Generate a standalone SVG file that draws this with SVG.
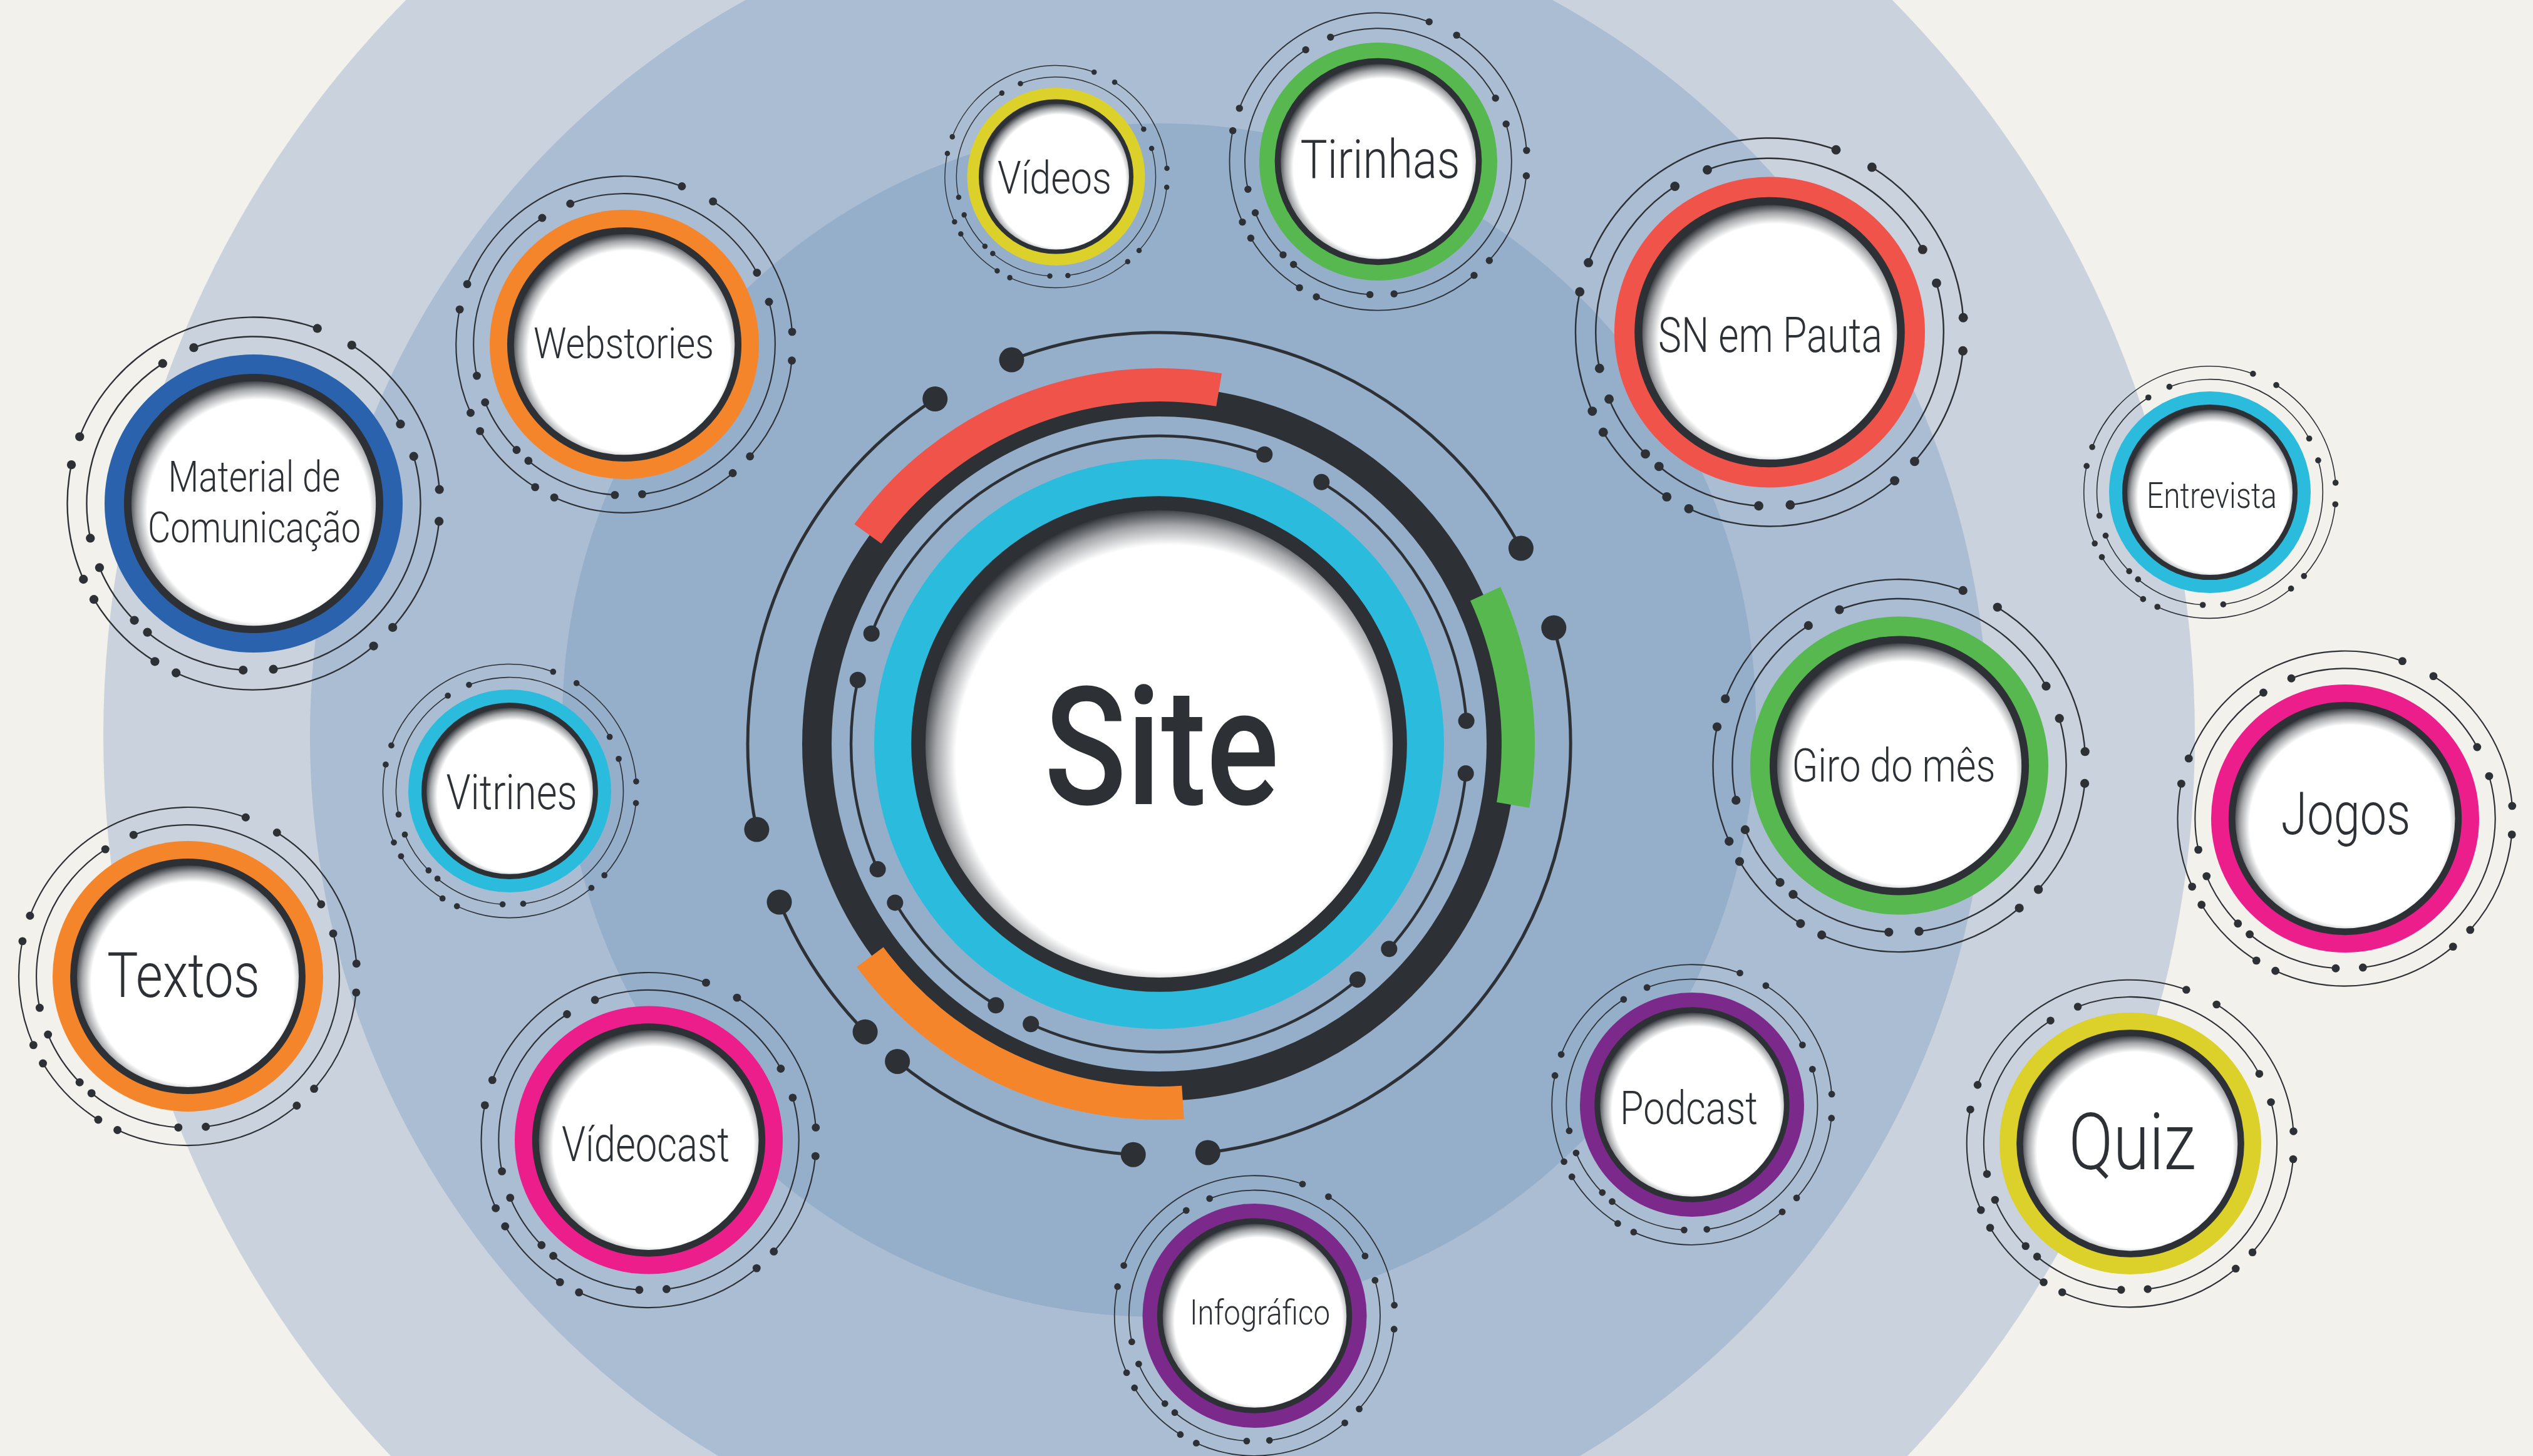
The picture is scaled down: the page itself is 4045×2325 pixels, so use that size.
<svg xmlns="http://www.w3.org/2000/svg" xmlns:xlink="http://www.w3.org/1999/xlink" width="4045" height="2325" viewBox="0 0 4045 2325">
<style>
.lbl{font-family:Roboto,"Noto Sans","DejaVu Sans",sans-serif;font-weight:300;fill:#2d3135;text-anchor:middle}
.site{font-family:Roboto,"Noto Sans","DejaVu Sans",sans-serif;font-weight:500;fill:#2d3135;text-anchor:middle}
.arc{fill:none;stroke:#2d3135;stroke-linecap:round}
.dot{fill:#2d3135}
</style>
<defs>
<radialGradient id="shade" gradientUnits="userSpaceOnUse" cx="3.5" cy="5" r="88">
<stop offset="0" stop-color="#ffffff"/>
<stop offset="0.85" stop-color="#ffffff"/>
<stop offset="0.93" stop-color="#a3a5a8"/>
<stop offset="1" stop-color="#2d3135"/>
</radialGradient>
<g id="core">
<circle r="100" fill="currentColor"/>
<circle r="87" fill="#2d3135"/>
<circle r="82" fill="url(#shade)"/>
</g>
<g id="tech">
<g class="arc" stroke-width="1">
<path d="M42.75,-117.46 A125,125 0 0 0 -116.70,-44.80"/>
<path d="M-122.27,-25.99 A125,125 0 0 0 -114.19,50.84"/>
<path d="M-107.15,64.38 A125,125 0 0 0 -66.24,106.0"/>
<path d="M-52.04,113.65 A125,125 0 0 0 80.51,95.61"/>
<path d="M124.42,11.98 A125,125 0 0 1 93.33,83.15"/>
<path d="M65.87,-106.24 A125,125 0 0 1 124.65,-9.37"/>
<path d="M-40.14,-104.56 A112,112 0 0 1 98.52,-53.27"/>
<path d="M-61.00,-93.93 A112,112 0 0 0 -109.55,23.29"/>
<path d="M-103.40,43.04 A112,112 0 0 0 -80.02,78.37"/>
<path d="M-71.24,86.42 A112,112 0 0 0 -7.03,111.78"/>
<path d="M107.44,-31.62 A112,112 0 0 1 13.26,111.21"/>
</g>
<g class="dot">
<circle cx="42.75" cy="-117.46" r="3"/><circle cx="-116.70" cy="-44.80" r="3"/>
<circle cx="-122.27" cy="-25.99" r="3"/><circle cx="-114.19" cy="50.84" r="3"/>
<circle cx="-107.15" cy="64.38" r="3"/><circle cx="-66.24" cy="106.0" r="3"/>
<circle cx="-52.04" cy="113.65" r="3"/><circle cx="80.51" cy="95.61" r="3"/>
<circle cx="124.42" cy="11.98" r="3"/><circle cx="93.33" cy="83.15" r="3"/>
<circle cx="65.87" cy="-106.24" r="3"/><circle cx="124.65" cy="-9.37" r="3"/>
<circle cx="-40.14" cy="-104.56" r="3"/><circle cx="98.52" cy="-53.27" r="3"/>
<circle cx="-61.00" cy="-93.93" r="3"/><circle cx="-109.55" cy="23.29" r="3"/>
<circle cx="-103.40" cy="43.04" r="3"/><circle cx="-80.02" cy="78.37" r="3"/>
<circle cx="-71.24" cy="86.42" r="3"/><circle cx="-7.03" cy="111.78" r="3"/>
<circle cx="107.44" cy="-31.62" r="3"/><circle cx="13.26" cy="111.21" r="3"/>
</g>
</g>
<g id="badge">
<use href="#core"/>
<use href="#tech"/>
</g>
</defs>

<g id="background">
<rect width="4045" height="2325" fill="#f3f1eb"/>
<circle cx="1835" cy="1175" r="1670" fill="#c9d2dd"/>
<circle cx="1835" cy="1175" r="1340" fill="#aabdd3"/>
<circle cx="1851" cy="1150" r="953" fill="#95afcb"/>
</g>

<g id="node-site">
<g class="arc" stroke-width="5">
<path d="M1615.5,574.6 A657,657 0 0 1 2428.9,875.5"/>
<path d="M2481.3,1002.5 A657,657 0 0 1 1928.8,1840.4"/>
<path d="M1433.1,1694.9 A657,657 0 0 0 1809.7,1843.7"/>
<path d="M1244.5,1440.5 A657,657 0 0 0 1381.6,1647.7"/>
<path d="M1493.2,637.0 A657,657 0 0 0 1208.4,1324.6"/>
</g>
<g class="dot">
<circle cx="1615.5" cy="574.6" r="20"/><circle cx="2428.9" cy="875.5" r="20"/>
<circle cx="2481.3" cy="1002.5" r="20"/><circle cx="1928.8" cy="1840.4" r="20"/>
<circle cx="1433.1" cy="1694.9" r="20"/><circle cx="1809.7" cy="1843.7" r="20"/>
<circle cx="1244.5" cy="1440.5" r="20"/><circle cx="1381.6" cy="1647.7" r="20"/>
<circle cx="1493.2" cy="637.0" r="20"/><circle cx="1208.4" cy="1324.6" r="20"/>
</g>
<circle cx="1851" cy="1188" r="546.5" fill="none" stroke="#2d3135" stroke-width="47"/>
<g fill="none" stroke-width="53">
<path d="M1385.8,852.5 A573.5,573.5 0 0 1 1946.7,622.5" stroke="#f0534a"/>
<path d="M2372.0,948.3 A573.5,573.5 0 0 1 2416.1,1285.6" stroke="#56b84f"/>
<path d="M1889.0,1760.2 A573.5,573.5 0 0 1 1389.4,1528.3" stroke="#f5852b"/>
</g>
<g class="arc" stroke-width="4.5">
<path d="M2019.3,725.7 A492,492 0 0 0 1391.7,1011.7"/>
<path d="M1369.8,1085.7 A492,492 0 0 0 1401.6,1388.1"/>
<path d="M1429.3,1441.4 A492,492 0 0 0 1590.3,1605.2"/>
<path d="M1646.2,1635.3 A492,492 0 0 0 2167.9,1564.3"/>
<path d="M2340.7,1235.1 A492,492 0 0 1 2218.3,1515.3"/>
<path d="M2110.3,769.8 A492,492 0 0 1 2341.6,1151.1"/>
</g>
<g class="dot">
<circle cx="2019.3" cy="725.7" r="13"/><circle cx="1391.7" cy="1011.7" r="13"/>
<circle cx="1369.8" cy="1085.7" r="13"/><circle cx="1401.6" cy="1388.1" r="13"/>
<circle cx="1429.3" cy="1441.4" r="13"/><circle cx="1590.3" cy="1605.2" r="13"/>
<circle cx="1646.2" cy="1635.3" r="13"/><circle cx="2167.9" cy="1564.3" r="13"/>
<circle cx="2340.7" cy="1235.1" r="13"/><circle cx="2218.3" cy="1515.3" r="13"/>
<circle cx="2110.3" cy="769.8" r="13"/><circle cx="2341.6" cy="1151.1" r="13"/>
</g>
<use href="#core" transform="translate(1851 1188) scale(4.55)" color="#2bbcdd"/>
<text class="site" x="1855" y="1284" font-size="263" textLength="375" lengthAdjust="spacingAndGlyphs">Site</text>
</g>

<g id="node-videos">
<use href="#badge" transform="translate(1686.5 282) scale(1.42)" color="#dcd12a"/>
<text class="lbl" x="1684" y="308.7" font-size="73" textLength="182" lengthAdjust="spacingAndGlyphs">Vídeos</text>
</g>
<g id="node-tirinhas">
<use href="#badge" transform="translate(2201 258) scale(1.90)" color="#56b84f"/>
<text class="lbl" x="2204" y="284" font-size="86" textLength="255" lengthAdjust="spacingAndGlyphs">Tirinhas</text>
</g>
<g id="node-webstories">
<use href="#badge" transform="translate(997 550) scale(2.15)" color="#f5852b"/>
<text class="lbl" x="996" y="571.5" font-size="69" textLength="288" lengthAdjust="spacingAndGlyphs">Webstories</text>
</g>
<g id="node-material">
<use href="#badge" transform="translate(405 804) scale(2.38)" color="#2a62ad"/>
<text class="lbl" x="406" y="785" font-size="68" textLength="275" lengthAdjust="spacingAndGlyphs">Material de</text>
<text class="lbl" x="406" y="866" font-size="68" textLength="340" lengthAdjust="spacingAndGlyphs">Comunicação</text>
</g>
<g id="node-sn-em-pauta">
<use href="#badge" transform="translate(2826 530.5) scale(2.48)" color="#f0534a"/>
<text class="lbl" x="2827" y="561.5" font-size="78" textLength="358" lengthAdjust="spacingAndGlyphs">SN em Pauta</text>
</g>
<g id="node-entrevista">
<use href="#badge" transform="translate(3529 786) scale(1.61)" color="#2bbcdd"/>
<text class="lbl" x="3532" y="811" font-size="58" textLength="208" lengthAdjust="spacingAndGlyphs">Entrevista</text>
</g>
<g id="node-giro">
<use href="#badge" transform="translate(3033 1222.5) scale(2.38)" color="#56b84f"/>
<text class="lbl" x="3024" y="1247.6" font-size="74" textLength="325" lengthAdjust="spacingAndGlyphs">Giro do mês</text>
</g>
<g id="node-jogos">
<use href="#badge" transform="translate(3745 1307) scale(2.14)" color="#ec1e8c"/>
<text class="lbl" x="3746" y="1331.7" font-size="95" textLength="207" lengthAdjust="spacingAndGlyphs">Jogos</text>
</g>
<g id="node-vitrines">
<use href="#badge" transform="translate(814 1263) scale(1.62)" color="#2bbcdd"/>
<text class="lbl" x="817" y="1291.5" font-size="77" textLength="209" lengthAdjust="spacingAndGlyphs">Vitrines</text>
</g>
<g id="node-textos">
<use href="#badge" transform="translate(300 1559) scale(2.16)" color="#f5852b"/>
<text class="lbl" x="293" y="1591.5" font-size="101" textLength="244" lengthAdjust="spacingAndGlyphs">Textos</text>
</g>
<g id="node-videocast">
<use href="#badge" transform="translate(1036 1820.5) scale(2.14)" color="#ec1e8c"/>
<text class="lbl" x="1031" y="1853.5" font-size="77" textLength="268" lengthAdjust="spacingAndGlyphs">Vídeocast</text>
</g>
<g id="node-podcast">
<use href="#badge" transform="translate(2702 1764) scale(1.79)" color="#7b2a8c"/>
<text class="lbl" x="2697" y="1794.7" font-size="74" textLength="220" lengthAdjust="spacingAndGlyphs">Podcast</text>
</g>
<g id="node-quiz">
<use href="#badge" transform="translate(3402 1826) scale(2.09)" color="#dcd12a"/>
<text class="lbl" x="3405" y="1866.8" font-size="127" textLength="203" lengthAdjust="spacingAndGlyphs">Quiz</text>
</g>
<g id="node-infografico">
<use href="#badge" transform="translate(2003.5 2101) scale(1.79)" color="#7b2a8c"/>
<text class="lbl" x="2012" y="2114.6" font-size="56" textLength="224" lengthAdjust="spacingAndGlyphs">Infográfico</text>
</g>
</svg>
